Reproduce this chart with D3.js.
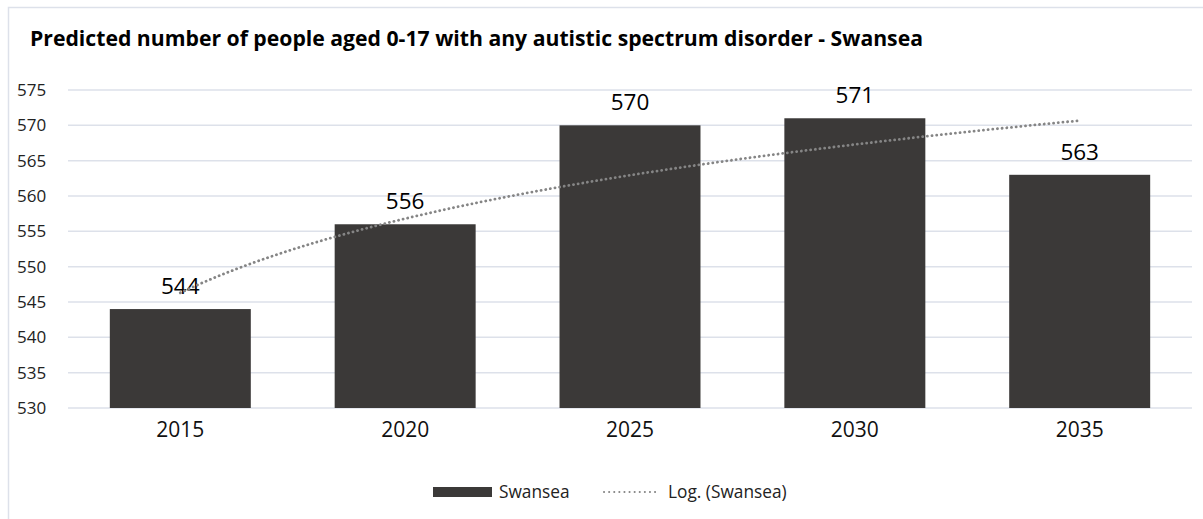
<!DOCTYPE html>
<html>
<head>
<meta charset="utf-8">
<script src="https://cdn.jsdelivr.net/npm/d3@7"></script>
<style>
  body { margin: 0; background: #fff; }
  svg { display: block; font-family: "Open Sans", sans-serif; }
</style>
</head>
<body>
<svg id="viz"></svg>
<script>
const width = 1203, height = 519;

const years = ["2015", "2020", "2025", "2030", "2035"];
const swansea = [544, 556, 570, 571, 563];
const yTicks = [530, 535, 540, 545, 550, 555, 560, 565, 570, 575];

const font = "'Open Sans', sans-serif";

const svg = d3.select("#viz")
    .attr("width", width)
    .attr("height", height);

// chart frame
svg.append("rect")
    .attr("x", 8.5).attr("y", 7.5)
    .attr("width", 1210).attr("height", 530)
    .attr("fill", "none")
    .attr("stroke", "#dde1ea")
    .attr("stroke-width", 1.5);

svg.append("text")
    .attr("x", 30).attr("y", 46)
    .attr("font-size", 21.2)
    .attr("font-weight", "bold")
    .attr("fill", "#000")
    .text("Predicted number of people aged 0-17 with any autistic spectrum disorder - Swansea");

const x = d3.scaleBand()
    .domain(years)
    .range([68, 1192])
    .paddingInner(0.373)
    .paddingOuter(0.186);

const y = d3.scaleLinear()
    .domain([530, 575])
    .range([408, 90]);

// gridlines
svg.append("g")
    .selectAll("line")
    .data(yTicks)
    .join("line")
    .attr("x1", 68).attr("x2", 1192)
    .attr("y1", d => y(d)).attr("y2", d => y(d))
    .attr("stroke", "#dde1ea")
    .attr("stroke-width", 1.5);

// y axis labels
const yAxis = svg.append("g")
    .attr("transform", "translate(17,0)")
    .call(d3.axisLeft(y).tickValues(yTicks).tickSize(0).tickPadding(0));
yAxis.select(".domain").remove();
yAxis.selectAll("text")
    .attr("text-anchor", "start")
    .attr("font-size", 17)
    .attr("font-family", font)
    .attr("fill", "#222");

// bars
svg.append("g")
    .selectAll("rect")
    .data(swansea)
    .join("rect")
    .attr("x", (d, i) => x(years[i]))
    .attr("y", d => y(d))
    .attr("width", x.bandwidth())
    .attr("height", d => y(530) - y(d))
    .attr("fill", "#3b3938");

// value labels
svg.append("g")
    .selectAll("text")
    .data(swansea)
    .join("text")
    .attr("x", (d, i) => x(years[i]) + x.bandwidth() / 2)
    .attr("y", d => y(d) - 15)
    .attr("text-anchor", "middle")
    .attr("font-size", 22.5)
    .attr("fill", "#000")
    .text(d => d);

// x axis labels
const xAxis = svg.append("g")
    .attr("transform", "translate(0,408)")
    .call(d3.axisBottom(x).tickSize(0).tickPadding(14));
xAxis.select(".domain").remove();
xAxis.selectAll("text")
    .attr("font-size", 21)
    .attr("font-family", font)
    .attr("fill", "#111");

// logarithmic trendline (least squares on ln(index))
const lx = swansea.map((d, i) => Math.log(i + 1));
const mx = d3.mean(lx), my = d3.mean(swansea);
const b = d3.sum(lx, (v, i) => (v - mx) * (swansea[i] - my)) / d3.sum(lx, v => (v - mx) ** 2);
const a = my - b * mx;

const step = x.step();
const cx = t => x(years[0]) + x.bandwidth() / 2 + (t - 1) * step;
const trend = d3.range(1, 5.001, 0.05).map(t => [cx(t), y(a + b * Math.log(t))]);

svg.append("path")
    .attr("d", d3.line()(trend))
    .attr("fill", "none")
    .attr("stroke", "#858585")
    .attr("stroke-width", 2.8)
    .attr("stroke-linecap", "round")
    .attr("stroke-dasharray", "0.1 4.6");

// legend
const legend = svg.append("g");
legend.append("rect")
    .attr("x", 433).attr("y", 487)
    .attr("width", 59).attr("height", 10)
    .attr("fill", "#3b3938");
legend.append("text")
    .attr("x", 499).attr("y", 498)
    .attr("font-size", 17.3)
    .attr("fill", "#222")
    .text("Swansea");
legend.append("line")
    .attr("x1", 604).attr("x2", 656)
    .attr("y1", 492).attr("y2", 492)
    .attr("stroke", "#858585")
    .attr("stroke-width", 2)
    .attr("stroke-linecap", "round")
    .attr("stroke-dasharray", "0.1 5");
legend.append("text")
    .attr("x", 668).attr("y", 498)
    .attr("font-size", 17.3)
    .attr("fill", "#222")
    .text("Log. (Swansea)");
</script>
</body>
</html>
